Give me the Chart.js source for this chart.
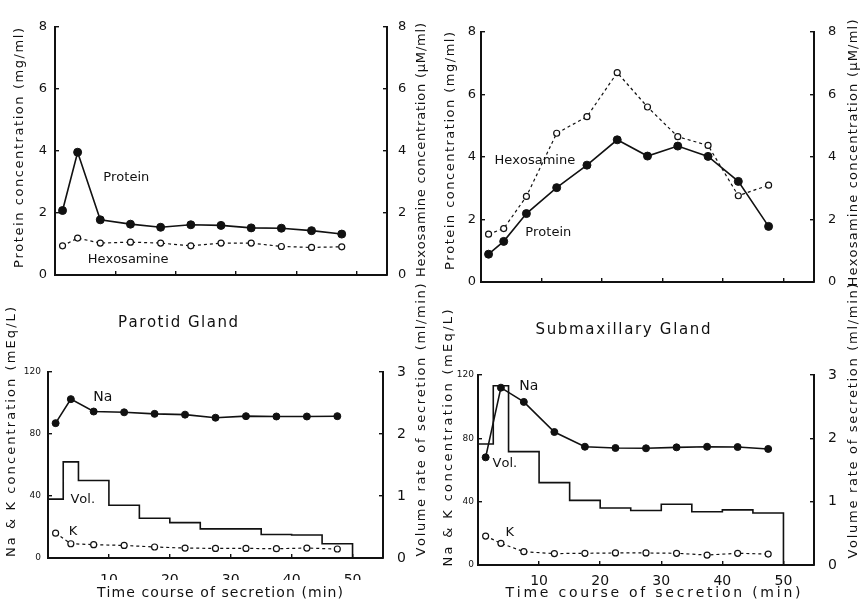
<!DOCTYPE html>
<html>
<head>
<meta charset="utf-8">
<script src="https://cdn.jsdelivr.net/npm/chart.js@4.4.1/dist/chart.umd.min.js"></script>
<style>
  html, body { margin: 0; padding: 0; background: #fff; }
  #wrap { position: relative; width: 862px; height: 604px; }
  #wrap canvas { position: absolute; left: 0; top: 0; }
</style>
</head>
<body>
<div id="wrap">
  <canvas id="parotidTop" width="862" height="604"></canvas>
  <canvas id="submaxTop" width="862" height="604"></canvas>
  <canvas id="parotidBottom" width="862" height="604"></canvas>
  <canvas id="submaxBottom" width="862" height="604"></canvas>
</div>
<script>
// sampling times (min), middle of each collection period
const sampleTimes = [1.25, 3.75, 7.5, 12.5, 17.5, 22.5, 27.5, 32.5, 37.5, 42.5, 47.5];
// collection period edges (min) for the volume-rate steps
const periodEdges = [0, 2.5, 5, 10, 15, 20, 25, 30, 35, 40, 45, 50];

// Parotid gland
const parotidProtein = [2.08, 3.96, 1.78, 1.64, 1.54, 1.62, 1.60, 1.52, 1.51, 1.43, 1.32];
const parotidHexosamine = [0.94, 1.19, 1.03, 1.06, 1.03, 0.94, 1.03, 1.03, 0.92, 0.89, 0.91];
const parotidNa = [87, 102.5, 94.5, 94, 93, 92.5, 90.5, 91.5, 91.3, 91.3, 91.5];
const parotidK = [16, 9.2, 8.6, 8.1, 7.1, 6.4, 6.2, 6.2, 6.0, 6.4, 5.8];
const parotidVol = [0.95, 1.55, 1.25, 0.85, 0.64, 0.57, 0.47, 0.47, 0.38, 0.37, 0.23];

// Submaxillary gland
const submaxProtein = [0.89, 1.30, 2.19, 3.02, 3.74, 4.55, 4.03, 4.35, 4.02, 3.22, 1.78];
const submaxHexosamine = [1.53, 1.71, 2.74, 4.76, 5.29, 6.7, 5.6, 4.65, 4.37, 2.76, 3.1];
const submaxNa = [68, 112, 103, 84, 74.7, 73.9, 73.7, 74.3, 74.7, 74.5, 73.3];
const submaxK = [18.3, 13.7, 8.4, 7.2, 7.4, 7.6, 7.6, 7.4, 6.3, 7.4, 6.9];
const submaxVol = [1.91, 2.83, 1.79, 1.30, 1.02, 0.90, 0.86, 0.96, 0.84, 0.87, 0.82];

// tick labels
const timeTicks = [0, 10, 20, 30, 40, 50];
const concTicks = [0, 2, 4, 6, 8];
const electrolyteTicks = [0, 40, 80, 120];
const volumeTicks = [0, 1, 2, 3];

const FONT = "'DejaVu Sans', sans-serif";
const INK = '#111';
const W = 862, H = 604, SIDE = 30, BOTTOM = 22;

const pts = (xs, ys) => xs.map((x, i) => ({ x, y: ys[i] }));

function stepPts(edges, rates) {
  const out = rates.map((r, i) => ({ x: edges[i], y: r }));
  const end = edges[edges.length - 1];
  out.push({ x: end, y: rates[rates.length - 1] });
  out.push({ x: end, y: 0 });
  return out;
}

function solidSeries(data, axis, r) {
  return { data, yAxisID: axis, borderColor: INK, borderWidth: 1.6, tension: 0,
    pointRadius: r, pointBackgroundColor: INK, pointBorderColor: INK, pointBorderWidth: 1, clip: false };
}
function dashedSeries(data, axis) {
  return { data, yAxisID: axis, borderColor: INK, borderWidth: 1.2, borderDash: [3, 3], tension: 0,
    pointRadius: 3, pointBackgroundColor: '#fff', pointBorderColor: INK, pointBorderWidth: 1.2, clip: false };
}
function stepSeries(data) {
  return { data, yAxisID: 'y1', stepped: true, borderColor: INK, borderWidth: 1.6, pointRadius: 0, clip: false };
}

function axisOpts(pos, max, ticks, size, gap, showLabels, fmt) {
  return {
    type: 'linear', position: pos, min: 0, max,
    afterBuildTicks: s => { s.ticks = ticks.map(v => ({ value: v })); },
    afterFit: s => { if (pos === 'bottom') s.height = BOTTOM; else s.width = SIDE; },
    border: { display: true, color: INK, width: 2 },
    grid: { display: true, drawOnChartArea: false, drawTicks: true, tickLength: -4, color: INK, lineWidth: 1.4 },
    ticks: { display: showLabels, padding: gap + 4, color: INK, font: { family: FONT, size },
      callback: fmt || (v => String(v)) }
  };
}

// draws a string spread to a given width, optionally rotated
function spreadText(ctx, text, cx, cy, size, width, rot) {
  ctx.save();
  ctx.translate(cx, cy);
  if (rot) ctx.rotate(rot);
  ctx.font = size + 'px ' + FONT;
  ctx.textBaseline = 'middle';
  const chars = [...text];
  const widths = chars.map(c => ctx.measureText(c).width);
  const natural = widths.reduce((a, b) => a + b, 0);
  const target = width || natural;
  const gapW = chars.length > 1 ? (target - natural) / (chars.length - 1) : 0;
  let x = -target / 2;
  ctx.textAlign = 'left';
  chars.forEach((c, i) => { ctx.fillText(c, x, 0); x += widths[i] + gapW; });
  ctx.restore();
}

function textPlugin(items) {
  return {
    id: 'panelText',
    afterDraw(chart) {
      const ctx = chart.ctx;
      ctx.save();
      ctx.fillStyle = INK;
      items.forEach(t => {
        let px = t.px, py = t.py;
        if (t.at) {
          px = chart.scales.x.getPixelForValue(t.at[0]);
          py = chart.scales[t.axis || 'y'].getPixelForValue(t.at[1]);
        }
        spreadText(ctx, t.text, px, py, t.size, t.width, t.rot ? -Math.PI / 2 : 0);
      });
      ctx.restore();
    }
  };
}

function makePanel(id, box, cfg) {
  new Chart(document.getElementById(id), {
    type: 'line',
    data: { datasets: cfg.datasets },
    options: {
      responsive: false, animation: false, devicePixelRatio: 1, events: [],
      layout: { padding: { left: box.l - SIDE, right: W - box.r - SIDE, top: box.t, bottom: H - box.b - BOTTOM } },
      plugins: { legend: { display: false }, tooltip: { enabled: false } },
      scales: { x: cfg.x, y: cfg.y, y1: cfg.y1 }
    },
    plugins: [textPlugin(cfg.texts)]
  });
}

const xLabel = v => (v === 0 ? '' : String(v));

// top left: parotid protein / hexosamine
makePanel('parotidTop', { l: 55, r: 387, t: 27, b: 275 }, {
  datasets: [
    dashedSeries(pts(sampleTimes, parotidHexosamine), 'y1'),
    solidSeries(pts(sampleTimes, parotidProtein), 'y', 4)
  ],
  x: axisOpts('bottom', 55, timeTicks, 14, 14, false),
  y: axisOpts('left', 8, concTicks, 13, 8, true),
  y1: axisOpts('right', 8, concTicks, 13, 11, true),
  texts: [
    { text: 'Protein concentration (mg/ml)', px: 20, py: 148, size: 13, width: 240, rot: true },
    { text: 'Hexosamine concentration (\u03bcM/ml)', px: 422, py: 150, size: 13, width: 254, rot: true },
    { text: 'Protein', at: [11.8, 3.13], size: 13 },
    { text: 'Hexosamine', at: [12.1, 0.48], size: 13 }
  ]
});

// top right: submaxillary protein / hexosamine
makePanel('submaxTop', { l: 481, r: 814, t: 32, b: 282 }, {
  datasets: [
    dashedSeries(pts(sampleTimes, submaxHexosamine), 'y1'),
    solidSeries(pts(sampleTimes, submaxProtein), 'y', 4)
  ],
  x: axisOpts('bottom', 55, timeTicks, 14, 14, false),
  y: axisOpts('left', 8, concTicks, 13, 5, true),
  y1: axisOpts('right', 8, concTicks, 13, 14, true),
  texts: [
    { text: 'Protein concentration (mg/ml)', px: 451, py: 151, size: 13, width: 238, rot: true },
    { text: 'Hexosamine concentration (\u03bcM/ml)', px: 854, py: 153, size: 13, width: 267, rot: true },
    { text: 'Hexosamine', at: [8.9, 3.9], size: 13 },
    { text: 'Protein', at: [11.1, 1.57], size: 13 }
  ]
});

// bottom left: parotid Na, K, volume
makePanel('parotidBottom', { l: 48, r: 383, t: 372, b: 558 }, {
  datasets: [
    stepSeries(stepPts(periodEdges, parotidVol)),
    dashedSeries(pts(sampleTimes, parotidK), 'y'),
    solidSeries(pts(sampleTimes, parotidNa), 'y', 3.5)
  ],
  x: axisOpts('bottom', 55, timeTicks, 14, 14, true, xLabel),
  y: axisOpts('left', 120, electrolyteTicks, 9, 7, true),
  y1: axisOpts('right', 3, volumeTicks, 14, 14, true),
  texts: [
    { text: 'Na & K concentration (mEq/L)', px: 12, py: 432, size: 13, width: 250, rot: true },
    { text: 'Volume rate of secretion (ml/min)', px: 422, py: 420, size: 13, width: 273, rot: true },
    { text: 'Parotid Gland', px: 178, py: 323, size: 15, width: 120 },
    { text: 'Time course of secretion (min)', px: 220, py: 593, size: 14, width: 246 },
    { text: 'Na', at: [9.0, 103.9], size: 14 },
    { text: 'Vol.', at: [5.7, 37.4], size: 13 },
    { text: 'K', at: [4.1, 16.8], size: 13 }
  ]
});

// bottom right: submaxillary Na, K, volume
makePanel('submaxBottom', { l: 478, r: 814, t: 375, b: 565 }, {
  datasets: [
    stepSeries(stepPts(periodEdges, submaxVol)),
    dashedSeries(pts(sampleTimes, submaxK), 'y'),
    solidSeries(pts(sampleTimes, submaxNa), 'y', 3.5)
  ],
  x: axisOpts('bottom', 55, timeTicks, 14, 8, true, xLabel),
  y: axisOpts('left', 120, electrolyteTicks, 9, 4, true),
  y1: axisOpts('right', 3, volumeTicks, 14, 14, true),
  texts: [
    { text: 'Na & K concentration (mEq/L)', px: 449, py: 438, size: 13, width: 257, rot: true },
    { text: 'Volume rate of secretion (ml/min)', px: 854, py: 421, size: 13, width: 275, rot: true },
    { text: 'Submaxillary Gland', px: 623, py: 330, size: 15, width: 175 },
    { text: 'Time course of secretion (min)', px: 653, py: 593, size: 14, width: 295 },
    { text: 'Na', at: [8.3, 113], size: 14 },
    { text: 'Vol.', at: [4.4, 63.8], size: 13 },
    { text: 'K', at: [5.2, 20.2], size: 13 }
  ]
});
</script>
</body>
</html>
